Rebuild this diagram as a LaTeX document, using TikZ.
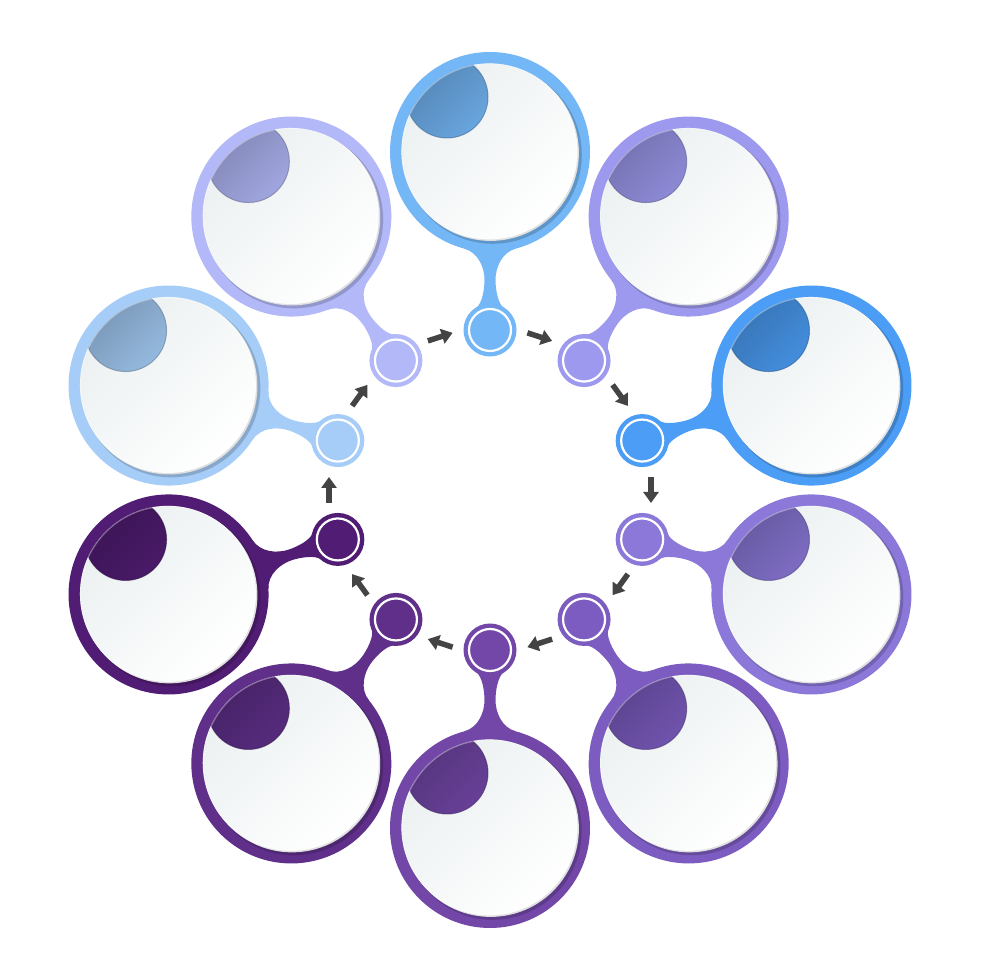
\documentclass[tikz,border=0pt]{standalone}
\usetikzlibrary{arrows.meta,calc}
\definecolor{arrowgray}{HTML}{444444}
\definecolor{innerc}{HTML}{EBF0F1}
\tikzset{
  arr/.style={draw=arrowgray, line width=5.5pt, -{Triangle[length=11pt,width=15pt]}},
  smalldot/.style={circle, fill=cc, minimum size=53pt, inner sep=0pt, outer sep=0pt},
}
\begin{document}
\begin{tikzpicture}[x=1pt,y=1pt]
\useasboundingbox (0,0) rectangle (980,980);
\fill[white] (0,0) rectangle (980,980);
\foreach \k/\col in {0/74B7F7,1/9D99EE,2/4B9DF5,3/8B78D8,4/7C5CC0,5/7347A8,6/5F2F8A,7/511C73,8/A5CDF7,9/B2B8F8}{
  \definecolor{cc}{HTML}{\col}
  \pgfmathsetmacro{\th}{90-36*\k}
  % stem, ring and small dot (rotated)
  \begin{scope}[shift={(490,490)}, rotate=\th]
    \fill[cc] (241.4,25.9) .. controls (237.5,11.4) and (222,5.5) .. (210,5.5)
       .. controls (202,5.5) and (186.2,7.5) .. (181.8,14.2)
       -- (181.8,-14.2) .. controls (186.2,-7.5) and (202,-5.5) .. (210,-5.5)
       .. controls (222,-5.5) and (237.5,-11.4) .. (241.4,-25.9) -- cycle;
    \fill[cc] (338,0) circle (100);
    \node[smalldot] (s\k) at (160,0) {};
  \end{scope}
  \draw[white, line width=2.2pt] (s\k.center) circle (21);
  % big circle inner details (not rotated)
  \begin{scope}[shift={(490,490)}]
  \begin{scope}[shift={(\th:338)}]
    \fill[cc!82!black] (2.8,-2.8) circle (89);
    \fill[black!12] (0.7,-0.7) circle (88.2);
    \shade[top color=innerc, bottom color=white, shading angle=45] (-0.6,0.6) circle (88);
    \begin{scope}
      \clip (-0.6,0.6) circle (88);
      \shade[top color=cc!72!black, bottom color=cc!90!black, shading angle=45] (-43,55) circle (41);
      \draw[cc!60!black, line width=1pt, opacity=0.6] (-43,55) circle (41);
      \draw[white, line width=2pt, opacity=0.35] (-0.6,0.6) circle (88);
    \end{scope}
  \end{scope}
  \end{scope}
  % arrows
  \pgfmathsetmacro{\ph}{72-36*\k}
  \path (490,490) ++(\ph:161) ++(\ph+90:13) coordinate (at\k);
  \path (490,490) ++(\ph:161) ++(\ph-90:13) coordinate (ah\k);
  \draw[arr] (at\k) -- (ah\k);
}
\end{tikzpicture}
\end{document}
